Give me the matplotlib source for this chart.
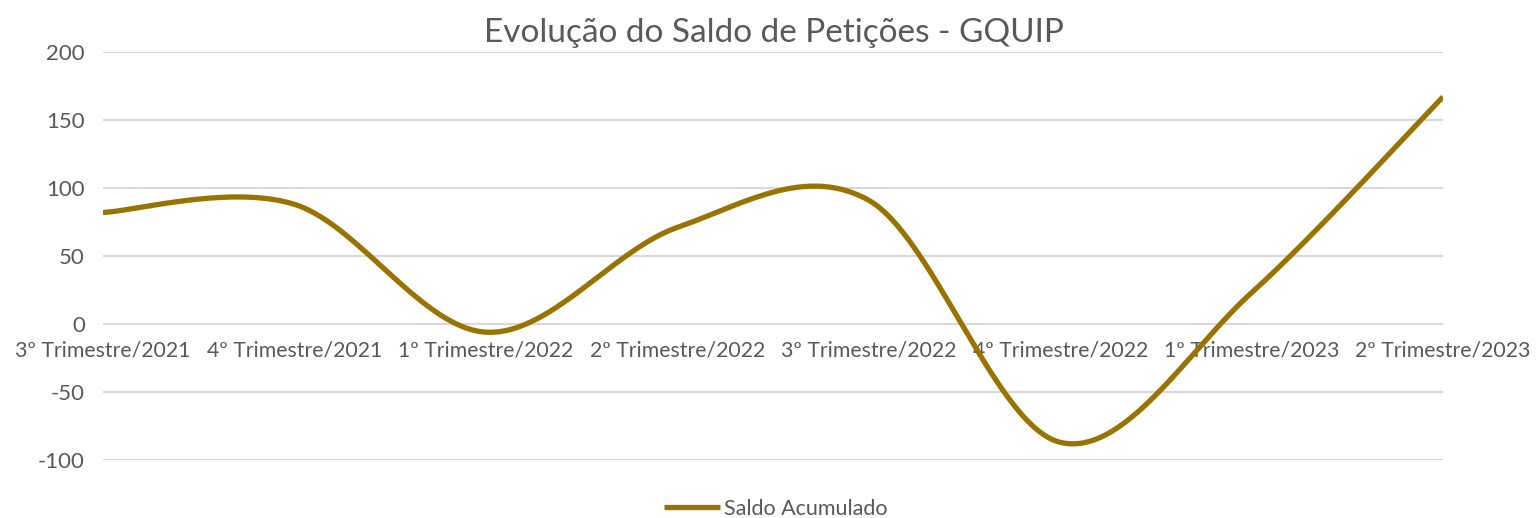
import numpy as np
import matplotlib
matplotlib.use("Agg")
import matplotlib.pyplot as plt

# dados
trimestres = ["3º Trimestre/2021", "4º Trimestre/2021", "1º Trimestre/2022", "2º Trimestre/2022",
              "3º Trimestre/2022", "4º Trimestre/2022", "1º Trimestre/2023", "2º Trimestre/2023"]
saldo = [82, 88, -6, 71, 91, -87, 23, 167]

cor_linha = "#997300"
cor_texto = "#595959"

plt.rcParams['font.family'] = ['Lato', 'DejaVu Sans']
plt.rcParams['axes.unicode_minus'] = False


# suavizacao estilo Excel (bezier com tangentes catmull-rom)
def suavizar(y, n=60):
    y = np.asarray(y, dtype=float)
    x = np.arange(len(y), dtype=float)
    xs, ys = [], []
    for i in range(len(y) - 1):
        i0 = max(i - 1, 0)
        i3 = min(i + 2, len(y) - 1)
        p0 = np.array([x[i], y[i]])
        p3 = np.array([x[i + 1], y[i + 1]])
        p1 = p0 + (np.array([x[i + 1], y[i + 1]]) - np.array([x[i0], y[i0]])) / 6
        p2 = p3 - (np.array([x[i3], y[i3]]) - np.array([x[i], y[i]])) / 6
        t = np.linspace(0, 1, n)[:, None]
        pts = (1 - t) ** 3 * p0 + 3 * (1 - t) ** 2 * t * p1 + 3 * (1 - t) * t ** 2 * p2 + t ** 3 * p3
        xs.extend(pts[:, 0])
        ys.extend(pts[:, 1])
    return np.array(xs), np.array(ys)


fig = plt.figure(figsize=(15.36, 5.18), dpi=100)
ax = fig.add_axes([103 / 1536, 1 - 460 / 518, (1443 - 103) / 1536, (460 - 52) / 518])

xc, yc = suavizar(saldo)
ax.plot(xc, yc, color=cor_linha, lw=3.8, solid_capstyle='butt', label="Saldo Acumulado", zorder=3)

ax.set_xlim(0, len(trimestres) - 1)
ax.set_ylim(-100, 200)
ax.set_yticks(range(-100, 201, 50))
ax.grid(axis='y', color='#d9d9d9', lw=1.5)
ax.set_axisbelow(True)

for s in ['top', 'right', 'left']:
    ax.spines[s].set_visible(False)
ax.spines['bottom'].set_position(('data', 0))
ax.spines['bottom'].set_visible(False)

ax.set_xticks(range(len(trimestres)))
ax.set_xticklabels(trimestres)
ax.tick_params(axis='x', length=0, pad=12, labelsize=15.3, labelcolor=cor_texto)
ax.tick_params(axis='y', length=0, pad=13, labelsize=16, labelcolor=cor_texto)

fig.text(0.504, 1 - 33 / 518, "Evolução do Saldo de Petições - GQUIP", ha='center', va='center',
         fontsize=24, color=cor_texto)

fig.legend(loc='center', bbox_to_anchor=(0.505, 1 - 509 / 518), frameon=False, fontsize=15.5,
           handlelength=2.6, handletextpad=0.15, labelcolor=cor_texto)

fig.savefig("out.png", dpi=100, facecolor='white')
